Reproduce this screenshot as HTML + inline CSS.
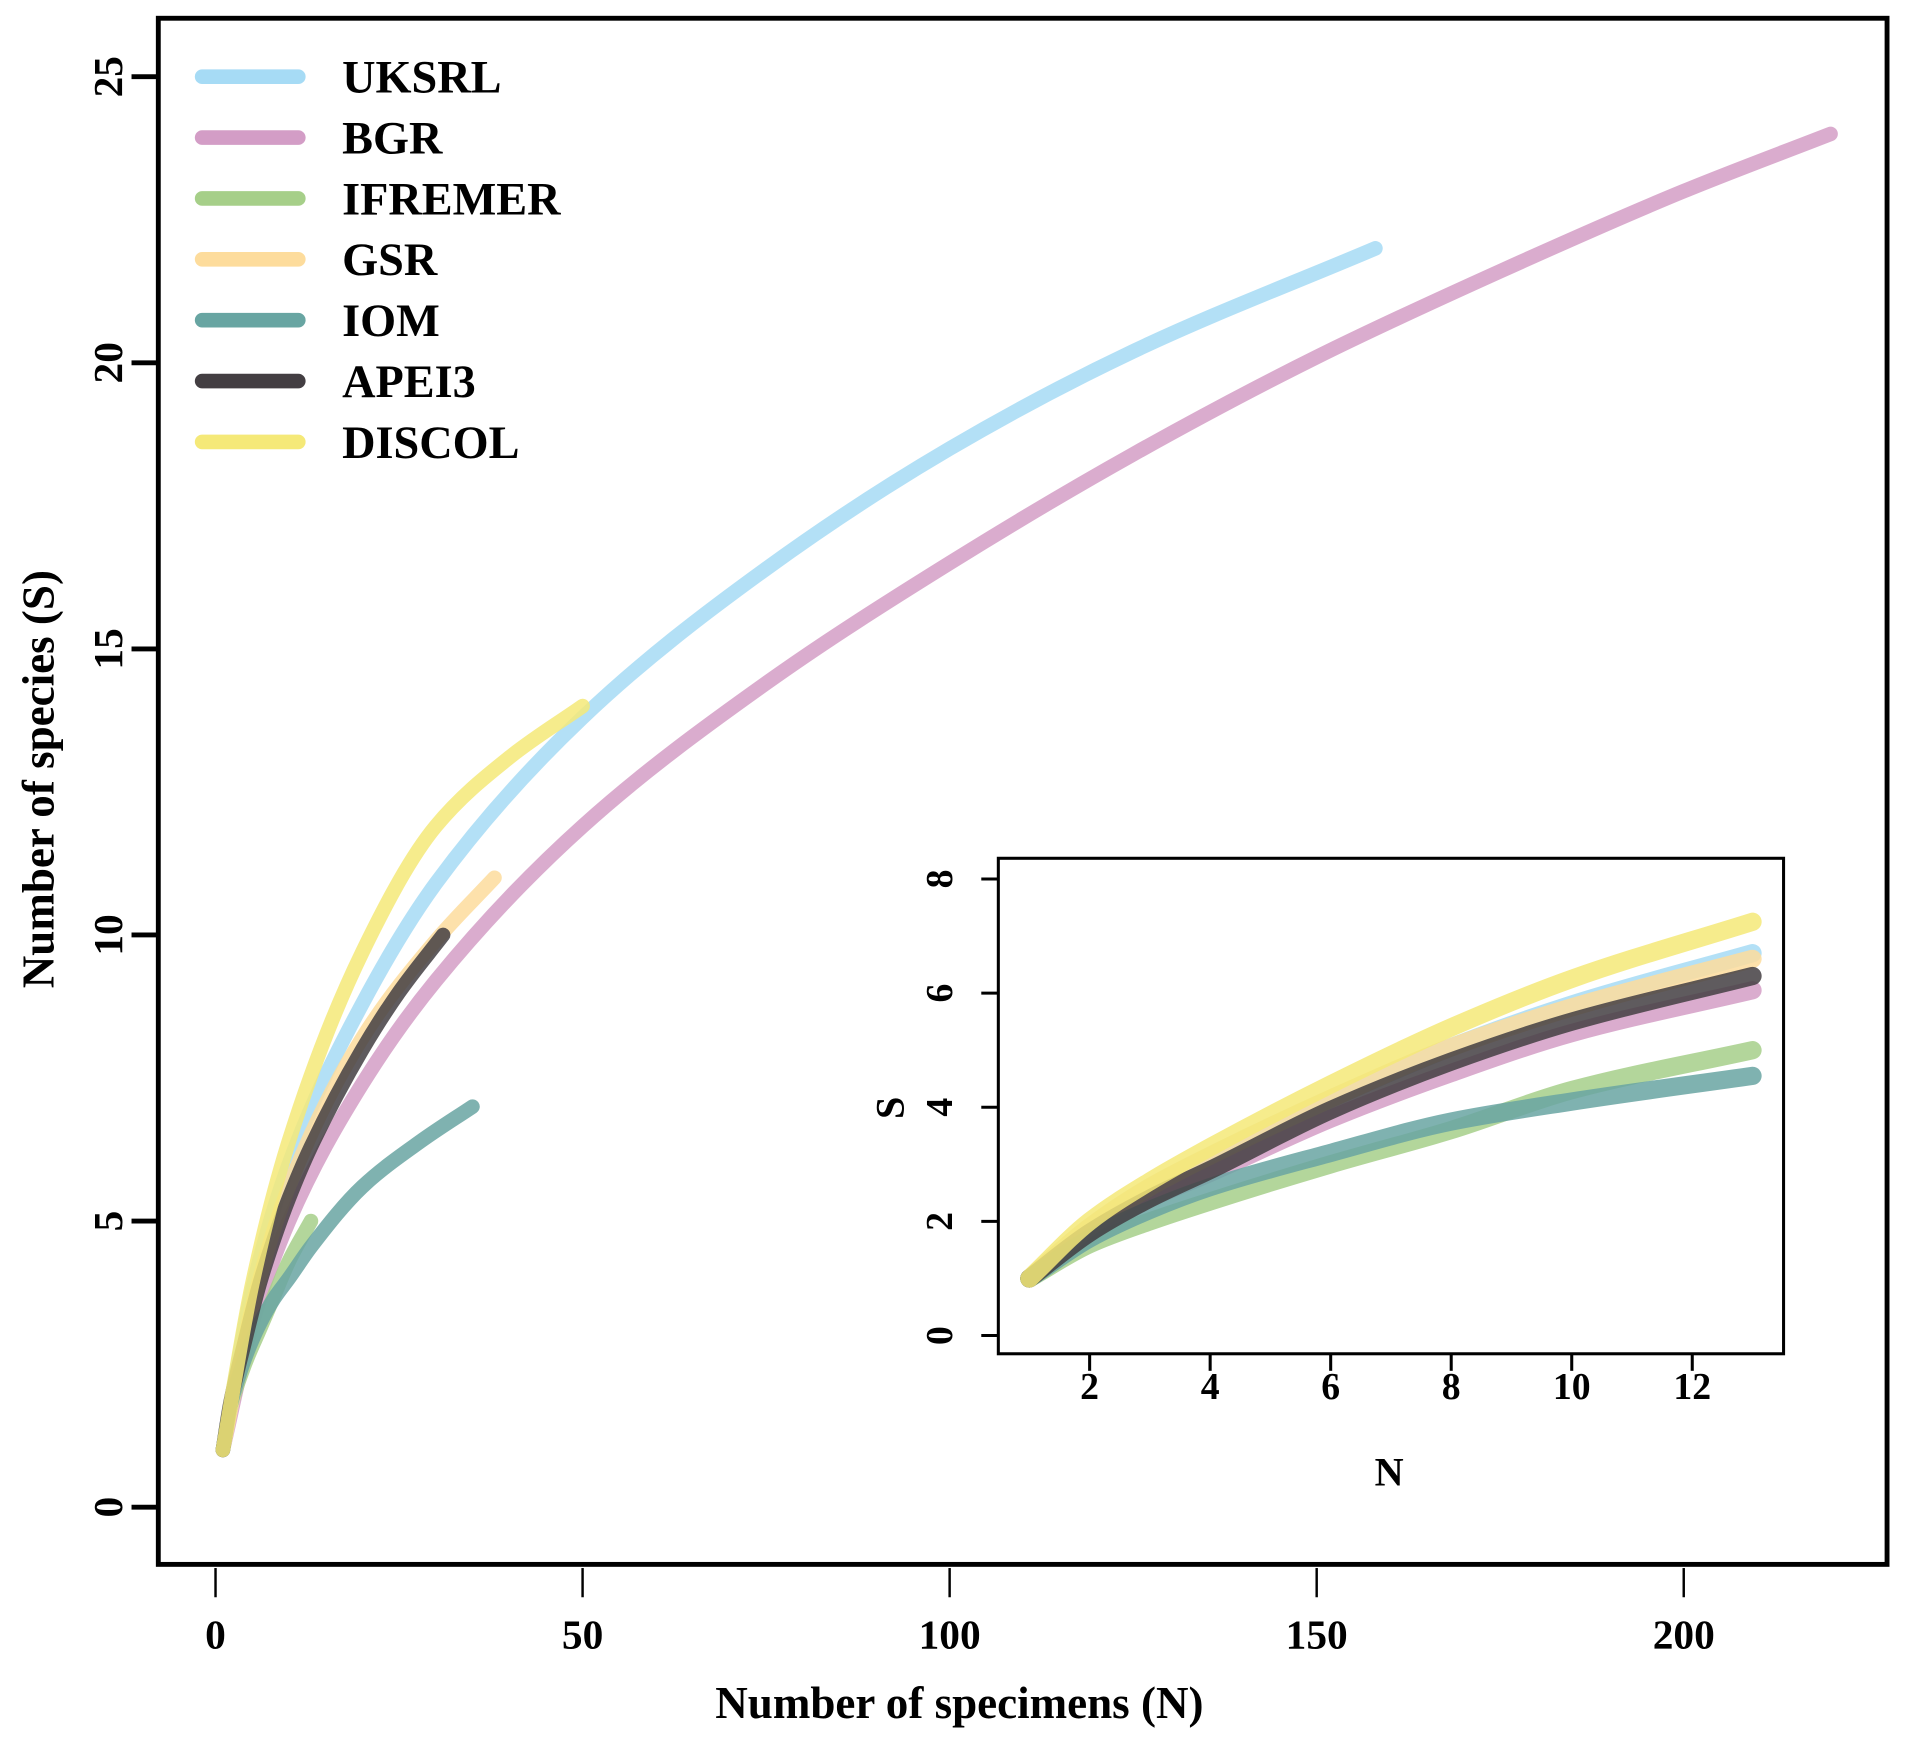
<!DOCTYPE html>
<html><head><meta charset="utf-8"><style>
html,body{margin:0;padding:0;background:#fff}
svg{display:block}
text{font-family:"Liberation Serif",serif;font-weight:bold;fill:#000}
</style></head><body>
<svg id="chart" width="1909" height="1747" viewBox="0 0 1568 1435" xmlns="http://www.w3.org/2000/svg">
<g id="main"></g>
<g id="inset"></g>
<g id="legend"></g>
</svg>
<script>
const seriesNames = ["UKSRL","BGR","IFREMER","GSR","IOM","APEI3","DISCOL"];
const seriesColors = ["#a6dbf5","#d39dc6","#a6cf89","#fddc9c","#68a5a2","#433e42","#f5e978"];
const xTicks = [0,50,100,150,200];
const yTicks = [0,5,10,15,20,25];
const insetXTicks = [2,4,6,8,10,12];
const insetYTicks = [0,2,4,6,8];

const ukN = [1,5,10,20,30,50,75,100,125,158];
const ukS = [1,3.8,6.0,8.8,10.9,13.8,16.4,18.5,20.2,22];
const bgrN = [1,5,10,20,30,50,75,100,125,150,175,200,220];
const bgrS = [1,3.2,5.0,7.4,9.2,11.9,14.4,16.5,18.4,20.1,21.6,23.0,24];
const ifrN = [1,2,4,6,8,10,13];
const ifrS = [1,1.7,2.5,3.1,3.7,4.3,5];
const gsrN = [1,5,10,20,30,38];
const gsrS = [1,3.5,5.6,8.2,9.9,11];
const iomN = [1,2,4,6,8,10,13,20,28,35];
const iomS = [1,1.75,2.6,3.2,3.65,4.0,4.55,5.6,6.4,7];
const apeN = [1,2,4,6,8,10,13,20,25,31];
const apeS = [1,1.8,2.9,3.9,4.7,5.4,6.3,8.0,9.0,10];
const disN = [1,5,10,20,30,40,50];
const disS = [1,3.9,6.4,9.7,11.9,13.1,14];

const insetN = [1,2,3,4,6,8,10,13];
const insetUK = [1,1.9,2.6,3.15,4.15,5.05,5.8,6.7];
const insetBGR = [1,1.8,2.4,2.85,3.8,4.6,5.3,6.05];
const insetIFR = [1,1.6,2.0,2.35,3.0,3.6,4.3,5.0];
const insetGSR = [1,1.9,2.6,3.15,4.15,5.05,5.75,6.6];
const insetIOM = [1,1.7,2.2,2.6,3.2,3.75,4.1,4.55];
const insetAPE = [1,1.8,2.4,2.9,3.95,4.8,5.5,6.3];
const insetDIS = [1,2.0,2.7,3.3,4.4,5.4,6.25,7.25];

const NS="http://www.w3.org/2000/svg";
function mk(parent,tag,attrs,txt){const e=document.createElementNS(NS,tag);for(const k in attrs)e.setAttribute(k,attrs[k]);if(txt!==undefined)e.textContent=txt;parent.appendChild(e);return e;}
function smooth(pts){
  const n=pts.length, d=[], m=new Array(n);
  for(let i=0;i<n-1;i++) d.push((pts[i+1][1]-pts[i][1])/(pts[i+1][0]-pts[i][0]));
  m[0]=d[0]; m[n-1]=d[n-2];
  for(let i=1;i<n-1;i++){
    if(d[i-1]*d[i]<=0) m[i]=0;
    else {const h0=pts[i][0]-pts[i-1][0],h1=pts[i+1][0]-pts[i][0];const w1=2*h1+h0,w2=h1+2*h0;m[i]=(w1+w2)/(w1/d[i-1]+w2/d[i]);}
  }
  let s="M"+pts[0][0]+","+pts[0][1];
  for(let i=0;i<n-1;i++){
    const h=(pts[i+1][0]-pts[i][0])/3;
    s+=" C"+(pts[i][0]+h)+","+(pts[i][1]+m[i]*h)+" "+(pts[i+1][0]-h)+","+(pts[i+1][1]-m[i+1]*h)+" "+pts[i+1][0]+","+pts[i+1][1];
  }
  return s;
}

const mx=v=>177+v*(1383-177)/200, my=v=>1238-v*47;
const main=document.getElementById('main');
let e=mk(main,'rect',{x:130,y:15,width:1420,height:1270,fill:'none',stroke:'#000','stroke-width':4});

xTicks.forEach(t=>{
  let l=mk(main,'line',{x1:mx(t),x2:mx(t),y1:1288,y2:1312,stroke:'#000','stroke-width':2});
  
  let tx=mk(main,'text',{x:mx(t),y:1354,'text-anchor':'middle','font-size':34},t);
  
});
yTicks.forEach(t=>{
  let l=mk(main,'line',{x1:108,x2:130,y1:my(t),y2:my(t),stroke:'#000','stroke-width':4});
  
  let tx=mk(main,'text',{x:0,y:0,'text-anchor':'middle','font-size':34,transform:`translate(100,${my(t)}) rotate(-90)`},t);
  
});
e=mk(main,'text',{x:788,y:1411,'text-anchor':'middle','font-size':37},'Number of specimens (N)');

e=mk(main,'text',{x:0,y:0,'text-anchor':'middle','font-size':37,transform:'translate(44,640) rotate(-90)'},'Number of species (S)');


const mainData=[[ukN,ukS],[bgrN,bgrS],[ifrN,ifrS],[gsrN,gsrS],[iomN,iomS],[apeN,apeS],[disN,disS]];
mainData.forEach((d,i)=>{
  const pts=d[0].map((n,j)=>[mx(n),my(d[1][j])]);
  const p=mk(main,'path',{d:smooth(pts),fill:'none',stroke:seriesColors[i],'stroke-width':12,'stroke-linecap':'round','stroke-opacity':0.85});
  
  
});

const ix=v=>895+(v-2)*(1390-895)/10, iy=v=>1097-v*(1097-722)/8;
const ins=document.getElementById('inset');
e=mk(ins,'rect',{x:820,y:705,width:645,height:407,fill:'#fff',stroke:'#000','stroke-width':2.5});

insetXTicks.forEach(t=>{
  let l=mk(ins,'line',{x1:ix(t),x2:ix(t),y1:1112,y2:1126,stroke:'#000','stroke-width':2.5});
  
  let tx=mk(ins,'text',{x:ix(t),y:1149,'text-anchor':'middle','font-size':31},t);
  
});
insetYTicks.forEach(t=>{
  let l=mk(ins,'line',{x1:806,x2:820,y1:iy(t),y2:iy(t),stroke:'#000','stroke-width':2.5});
  
  let tx=mk(ins,'text',{x:0,y:0,'text-anchor':'middle','font-size':31,transform:`translate(782,${iy(t)}) rotate(-90)`},t);
  
});
e=mk(ins,'text',{x:1141,y:1220,'text-anchor':'middle','font-size':33},'N');

e=mk(ins,'text',{x:0,y:0,'text-anchor':'middle','font-size':33,transform:'translate(742,910) rotate(-90)'},'S');

const insetData=[insetUK,insetBGR,insetIFR,insetGSR,insetIOM,insetAPE,insetDIS];
insetData.forEach((s,i)=>{
  const pts=insetN.map((n,j)=>[ix(n),iy(s[j])]);
  const p=mk(ins,'path',{d:smooth(pts),fill:'none',stroke:seriesColors[i],'stroke-width':15,'stroke-linecap':'round','stroke-opacity':0.85});
  
  
});

const leg=document.getElementById('legend');
seriesNames.forEach((nm,i)=>{
  const y=63+i*50;
  const l=mk(leg,'line',{x1:166,x2:245,y1:y,y2:y,stroke:seriesColors[i],'stroke-width':12,'stroke-linecap':'round'});
  
  
  const t=mk(leg,'text',{x:281,y:y+13,'font-size':38},nm);
  
  
});
</script>
</body></html>
